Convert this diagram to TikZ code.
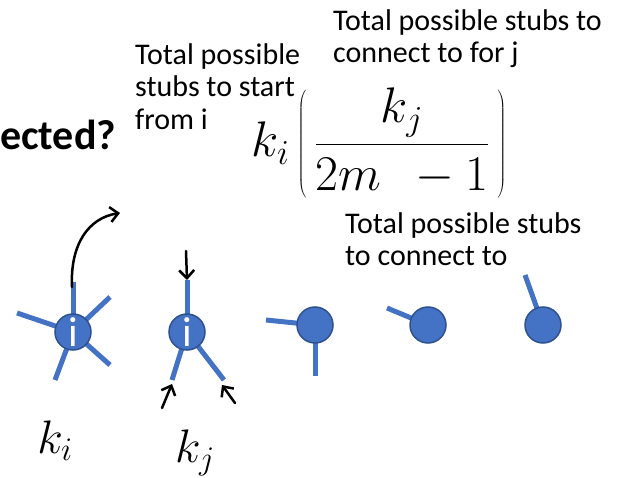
\RequirePackage{fix-cm}
\documentclass[tikz,border=0pt]{standalone}
\usepackage[no-math]{fontspec}
\setmainfont{Carlito}
\usetikzlibrary{arrows.meta}
\definecolor{nodeblue}{HTML}{4472C4}
\definecolor{nodeedge}{HTML}{2F528F}
\begin{document}
\begin{tikzpicture}[x=1pt,y=-1pt,
  vert/.style={circle,fill=nodeblue,draw=nodeedge,line width=1.5pt,minimum size=36pt,inner sep=0pt},
  stub/.style={draw=nodeblue,line width=5pt},
  harrow/.style={draw=black,line width=2.5pt,line cap=round,-{Straight Barb[length=8pt,width=15pt,line width=2.5pt]}},
  lbl/.style={align=left,anchor=north west,inner sep=0pt,font=\fontsize{30}{32.5}\selectfont},
  inode/.style={text=white,font=\fontsize{42}{42}\selectfont}
]
\useasboundingbox (0,0) rectangle (621,478);
% stub end points
\coordinate (a1) at (73,282);
\coordinate (a2) at (17,313);
\coordinate (a3) at (110,297);
\coordinate (a4) at (55,380);
\coordinate (a5) at (110,365);
\coordinate (b1) at (187,280);
\coordinate (b2) at (172,380);
\coordinate (b3) at (224,380);
\coordinate (c1) at (266,320);
\coordinate (c2) at (315,376);
\coordinate (d1) at (387,308);
\coordinate (e1) at (525,275);
% stubs (behind vertices)
\foreach \e in {a1,a2,a3,a4,a5} \draw[stub] (73,332) -- (\e);
\foreach \e in {b1,b2,b3} \draw[stub] (187,332) -- (\e);
\foreach \e in {c1,c2} \draw[stub] (315,325) -- (\e);
\draw[stub] (428,325) -- (d1);
\draw[stub] (543,325) -- (e1);
% vertices
\node[vert] (n1) at (73,332) {};
\node[vert] (n2) at (187,332) {};
\node[inode,inner sep=0pt] (i1) at (73,332) {i};
\node[inode,inner sep=0pt] (i2) at (187,332) {i};
\node[vert] (n3) at (315,325) {};
\node[vert] (n4) at (428,325) {};
\node[vert] (n5) at (543,325) {};
% hand-drawn arrows
\coordinate (p1) at (72,287);
\coordinate (p2) at (120,213);
\draw[harrow] (p1) .. controls (70,245) and (88,218) .. (p2);
\coordinate (q1) at (186,251);
\draw[harrow] (q1) -- (b1);
\coordinate (r1) at (162,408);
\draw[harrow] (r1) -- (172,384);
\coordinate (s1) at (235,403);
\draw[harrow] (s1) -- (222,385);
% texts
\node[anchor=west,inner sep=0pt,font=\fontsize{42}{42}\selectfont\bfseries] (q) at (0,135) {ected?};
\node[lbl] (t1) at (135,43) {Total possible\\stubs to start\\from i};
\node[lbl] (t2) at (333,9) {Total possible stubs to\\connect to for j};
\node[lbl] (t3) at (345,212) {Total possible stubs\\to connect to};
\node[inner sep=0pt,font=\fontsize{50}{60}\selectfont] (f) at (379,143) {$\displaystyle k_i\left(\,\frac{k_j}{2m\;\,-1}\,\right)$};
\node[inner sep=0pt,font=\fontsize{47}{47}\selectfont] (ki) at (55,441) {$k_i$};
\node[inner sep=0pt,font=\fontsize{47}{47}\selectfont] (kj) at (195,453) {$k_j$};
\end{tikzpicture}
\end{document}
